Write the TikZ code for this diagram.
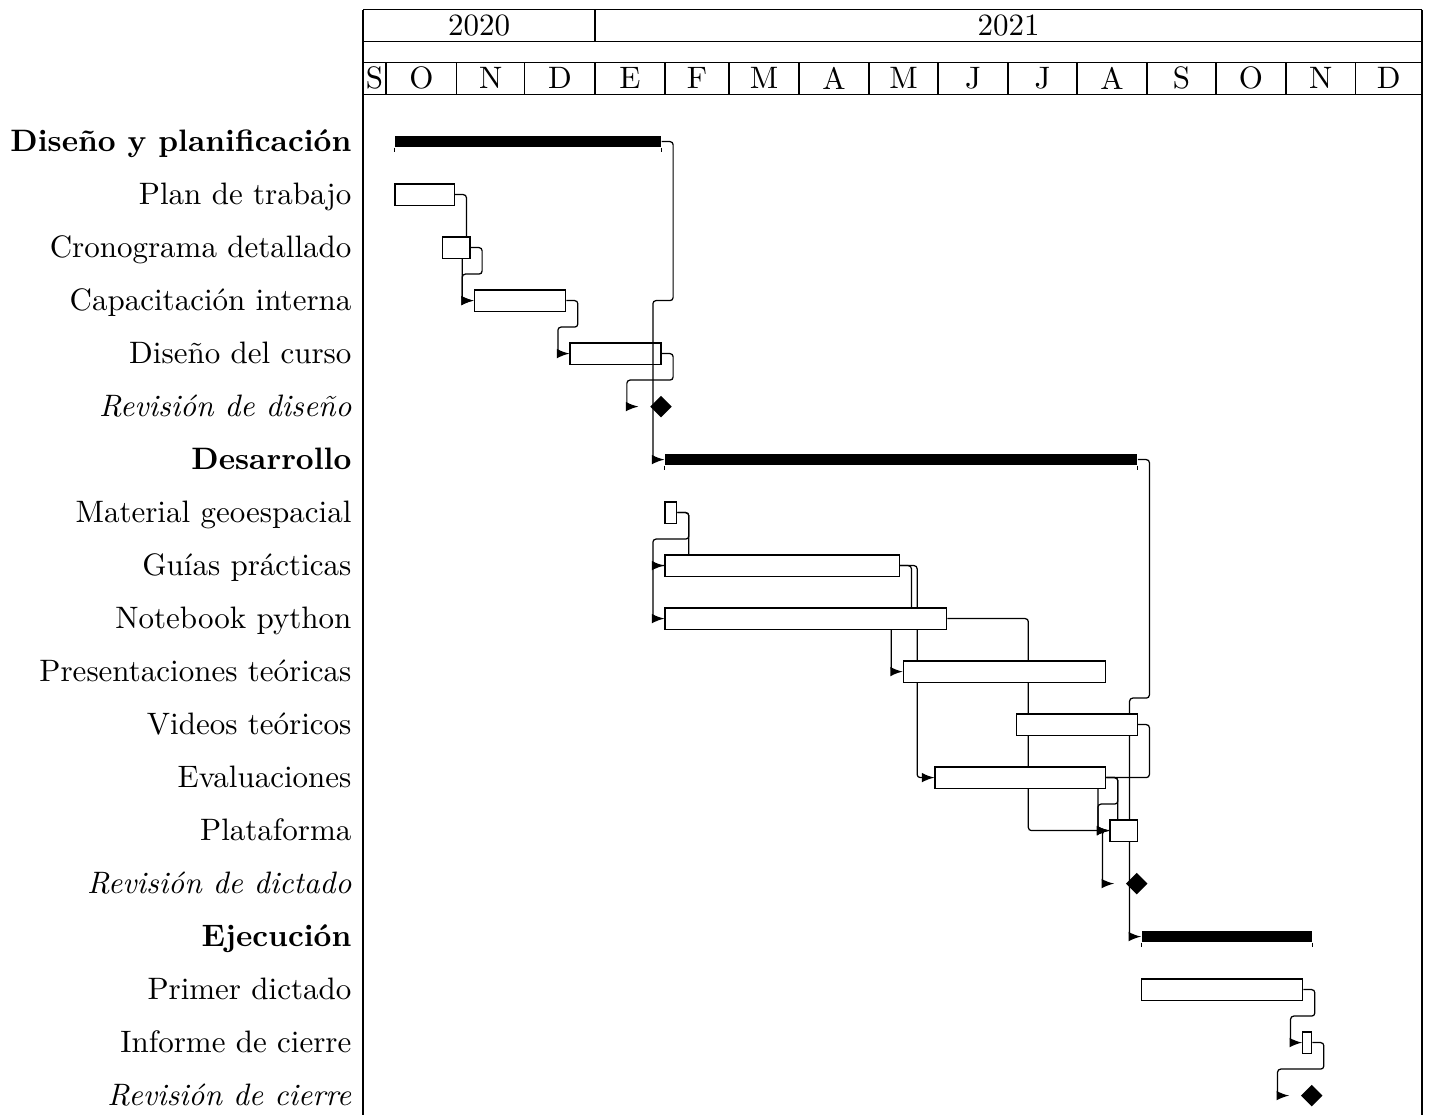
\documentclass[tikz,border=0pt]{standalone}
\usetikzlibrary{calc,shapes.geometric}
\pgfdeclarelayer{bg}
\pgfsetlayers{bg,main}
\tikzset{
  task/.style={draw, fill=white, rectangle, inner sep=0pt, line width=0.4pt},
  grp/.style={fill=black, draw=none, rectangle, inner sep=0pt},
  mst/.style={diamond, fill=black, inner sep=0pt, minimum width=22*0.3226pt, minimum height=22*0.3226pt},
  lbl/.style={anchor=base east, inner sep=0pt},
  hdr/.style={inner sep=0pt},
  lnk/.style={-latex, rounded corners=1pt, line width=0.4pt},
  gridline/.style={line width=0.4pt},
}
\newcommand\taskbox[4]{\node[task, minimum width={(#3-#2)*0.3226pt}, minimum height=21.4*0.3226pt] (#1) at ({(#2+#3)/2},#4) {};}
\newcommand\grpbar[4]{\node[grp, minimum width={(#3-#2)*0.3226pt}, minimum height=10.6*0.3226pt] (#1) at ({(#2+#3)/2},#4) {};
  \draw[line width=0.3pt] (#1.south west) -- ++(0,4.5) (#1.south east) -- ++(0,4.5);}
\newcommand\lnkback[2]{\draw[lnk] let \p1=(#1), \p2=(#2) in (\p1) -- (\x1+3.71pt,\y1) -- (\x1+3.71pt,{(\y1+\y2)/2}) -- (\x2-3.71pt,{(\y1+\y2)/2}) -- (\x2-3.71pt,\y2) -- (\p2);}
\newcommand\lnkfwd[2]{\draw[lnk] let \p1=(#1), \p2=(#2) in (\p1) -- ({(\x1+\x2)/2},\y1) -- ({(\x1+\x2)/2},\y2) -- (\p2);}
\begin{document}
\begin{tikzpicture}[x=0.3226pt, y=-0.3226pt]
\useasboundingbox (0,0) rectangle (1430,1115);
% header
\draw[gridline] (363,9.5) -- (1422,9.5) (363,41.7) -- (1422,41.7) (363,62.3) -- (1422,62.3) (363,94.3) -- (1422,94.3);
\draw[gridline] (363,9.5) -- (363,1115) (1422,9.5) -- (1422,1115) (595,9.5) -- (595,41.7);
\node[hdr] (y2020) at (479,25.6) {2020};
\node[hdr] (y2021) at (1008.5,25.6) {2021};
\foreach \a/\b/\t [count=\i] in {363/386/S, 386/456.7/O, 456.7/524.7/N, 524.7/595/D, 595/665/E, 665/729/F, 729/799/M, 799/869/A, 869/938/M, 938/1008/J, 1008/1077/J, 1077/1147/A, 1147/1216/S, 1216/1286/O, 1286/1355.5/N, 1355.5/1422/D}{
  \node[hdr] (mo\i) at ({(\a+\b)/2},78.3) {\t};
  \draw[gridline] (\b,62.3) -- (\b,94.3);
}
% labels
\node[lbl] (l0) at (352,151.3) {\textbf{Diseño y planificación}};
\node[lbl] (l1) at (352,204.3) {Plan de trabajo};
\node[lbl] (l2) at (352,257.3) {Cronograma detallado};
\node[lbl] (l3) at (352,310.3) {Capacitación interna};
\node[lbl] (l4) at (352,363.3) {Diseño del curso};
\node[lbl] (l5) at (352,416.3) {\textit{Revisión de diseño}};
\node[lbl] (l6) at (352,469.3) {\textbf{Desarrollo}};
\node[lbl] (l7) at (352,522.3) {Material geoespacial};
\node[lbl] (l8) at (352,575.3) {Guías prácticas};
\node[lbl] (l9) at (352,628.3) {Notebook python};
\node[lbl] (l10) at (352,681.3) {Presentaciones teóricas};
\node[lbl] (l11) at (352,734.3) {Videos teóricos};
\node[lbl] (l12) at (352,787.3) {Evaluaciones};
\node[lbl] (l13) at (352,840.3) {Plataforma};
\node[lbl] (l14) at (352,893.3) {\textit{Revisión de dictado}};
\node[lbl] (l15) at (352,946.3) {\textbf{Ejecución}};
\node[lbl] (l16) at (352,999.3) {Primer dictado};
\node[lbl] (l17) at (352,1052.3) {Informe de cierre};
\node[lbl] (l18) at (352,1105.3) {\textit{Revisión de cierre}};
% bars
\grpbar{dp}{395}{661}{141.6}
\taskbox{plan}{395}{454.3}{194.6}
\taskbox{crono}{442.7}{470}{247.6}
\taskbox{capac}{474.3}{565.7}{300.6}
\taskbox{disc}{570}{661}{353.6}
\node[mst] (m1) at (661,406.6) {};
\grpbar{des}{665}{1137.3}{459.6}
\taskbox{mat}{665}{676.7}{512.6}
\taskbox{guias}{665}{899.3}{565.6}
\taskbox{note}{665}{946.7}{618.6}
\taskbox{pres}{903.3}{1105.7}{671.6}
\taskbox{vid}{1016.7}{1137.3}{724.6}
\taskbox{eval}{935}{1105.7}{777.6}
\taskbox{plat}{1110}{1137.3}{830.6}
\node[mst] (m2) at (1136.7,883.6) {};
\grpbar{eje}{1141.7}{1311.7}{936.6}
\taskbox{prim}{1141.7}{1302.7}{989.6}
\taskbox{inf}{1302.7}{1311.7}{1042.6}
\node[mst] (m3) at (1311.7,1095.6) {};
\coordinate (m1in) at ($(m1.west)+(-3.55pt,0)$);
\coordinate (m2in) at ($(m2.west)+(-3.55pt,0)$);
\coordinate (m3in) at ($(m3.west)+(-3.55pt,0)$);
% links behind bars
\begin{pgfonlayer}{bg}
\lnkback{plan.east}{capac.west}
\lnkback{crono.east}{capac.west}
\lnkback{capac.east}{disc.west}
\lnkback{disc.east}{m1in}
\lnkback{mat.east}{guias.west}
\lnkback{mat.east}{note.west}
\lnkback{guias.east}{pres.west}
\lnkfwd{guias.east}{eval.west}
\lnkfwd{note.east}{plat.west}
\lnkback{vid.east}{plat.west}
\lnkback{eval.east}{plat.west}
\lnkback{eval.east}{m2in}
\lnkback{des.east}{eje.west}
\lnkback{prim.east}{inf.west}
\lnkback{inf.east}{m3in}
\end{pgfonlayer}
% link drawn over bars
\lnkback{dp.east}{des.west}
\end{tikzpicture}
\end{document}
